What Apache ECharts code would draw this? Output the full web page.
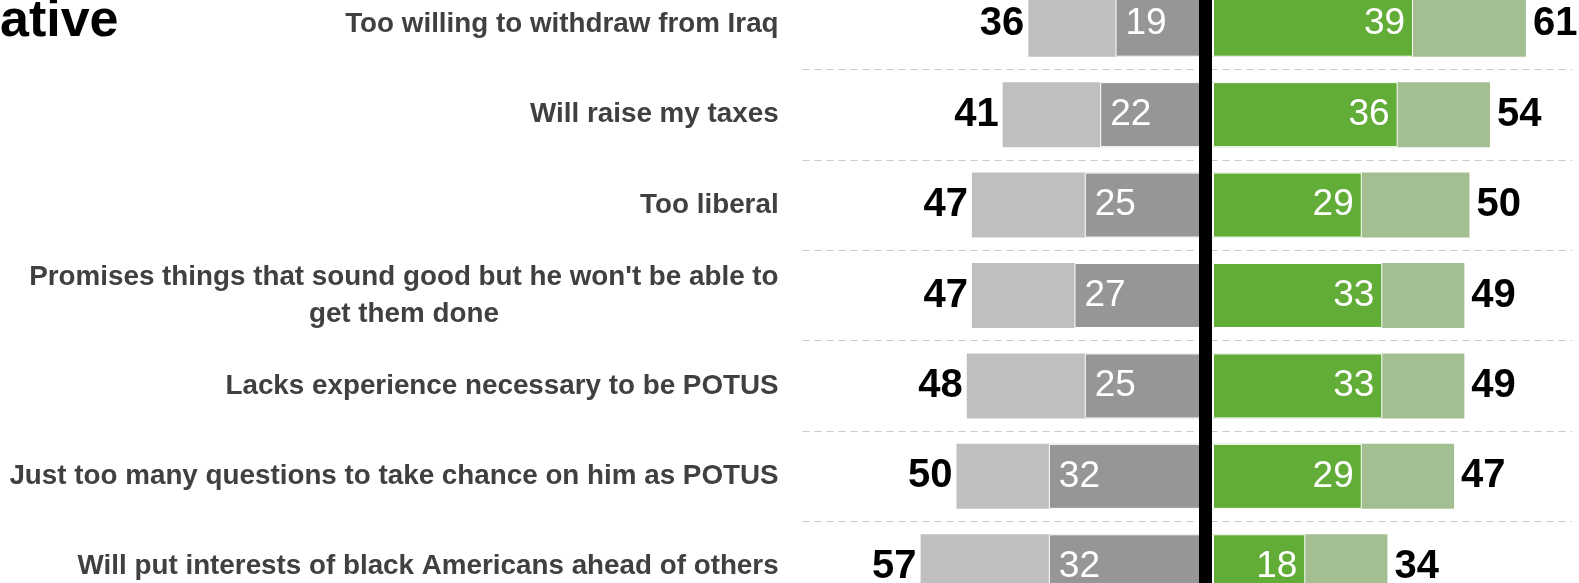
<!DOCTYPE html>
<html>
<head>
<meta charset="utf-8">
<script src="https://cdn.jsdelivr.net/npm/echarts@6/dist/echarts.min.js"></script>
<style>
html, body { margin: 0; padding: 0; background: #fff; }
#main { width: 1579px; height: 583px; }
</style>
</head>
<body>
<div id="main"></div>
<script>
let categories = [
    'Too willing to withdraw from Iraq',
    'Will raise my taxes',
    'Too liberal',
    "Promises things that sound good but he won't be able to\nget them done",
    'Lacks experience necessary to be POTUS',
    'Just too many questions to take chance on him as POTUS',
    'Will put interests of black Americans ahead of others'
];
let grayTotal   = [36, 41, 47, 47, 48, 50, 57];
let grayStrong  = [19, 22, 25, 27, 25, 32, 32];
let greenStrong = [39, 36, 29, 33, 33, 29, 18];
let greenTotal  = [61, 54, 50, 49, 49, 47, 34];

// layout
let xMin = -80, xMax = 70;
let pxPerUnit = 5.13;
let zeroX = 1213;
let gridLeft = zeroX - (-xMin) * pxPerUnit;
let gridWidth = (xMax - xMin) * pxPerUnit;
let lineCenter = 1205.5;
let font = 'Liberation Sans';

let absLabel = function (p) { return Math.abs(p.value); };

let totalLabel = function (pos, dist) {
    return {
        show: true, position: pos, distance: dist,
        formatter: absLabel,
        fontFamily: font, fontSize: 40, fontWeight: 'bold', color: '#000'
    };
};
let innerLabel = function (pos, dist) {
    return {
        show: true, position: pos, distance: dist,
        formatter: absLabel,
        fontFamily: font, fontSize: 37, color: '#fff'
    };
};

let option = {
    animation: false,
    backgroundColor: '#fff',
    title: {
        text: 'ative',
        left: 0,
        top: -4,
        padding: 0,
        textStyle: { fontFamily: font, fontSize: 52, fontWeight: 'bold', color: '#000' }
    },
    grid: {
        left: gridLeft,
        width: gridWidth,
        top: -21,
        height: 633,
        outerBoundsMode: 'none',
        containLabel: false
    },
    xAxis: {
        type: 'value',
        min: xMin,
        max: xMax,
        show: false
    },
    yAxis: [
        {
            type: 'category',
            inverse: true,
            data: categories,
            position: 'left',
            axisLine: { show: false, onZero: false },
            axisTick: { show: false },
            splitLine: {
                show: true,
                lineStyle: { color: '#c8c8c8', width: 1, type: [7, 5] }
            },
            axisLabel: {
                margin: 24,
                formatter: function (v) {
                    return v.split('\n').map(function (s) { return '{c|' + s + '}'; }).join('\n');
                },
                rich: {
                    c: {
                        fontFamily: font, fontSize: 27.8, fontWeight: 'bold',
                        color: '#404040', align: 'center', lineHeight: 37
                    }
                }
            }
        },
        {
            type: 'category',
            inverse: true,
            data: categories,
            position: 'left',
            offset: -(lineCenter - gridLeft),
            z: 10,
            axisLine: { show: true, onZero: false, lineStyle: { color: '#000', width: 13 } },
            axisTick: { show: false },
            axisLabel: { show: false },
            splitLine: { show: false }
        }
    ],
    series: [
        {
            name: 'gray total',
            type: 'bar',
            barWidth: 65,
            barGap: '-100%',
            data: grayTotal.map(function (v) { return -v; }),
            itemStyle: { color: '#bfbfbf' },
            label: totalLabel('left', 4)
        },
        {
            name: 'gray strong',
            type: 'bar',
            barWidth: 65,
            barGap: '-100%',
            data: grayStrong.map(function (v) { return -v; }),
            itemStyle: { color: '#969696', borderColor: '#fff', borderWidth: 1 },
            label: innerLabel('insideLeft', 10)
        },
        {
            name: 'green total',
            type: 'bar',
            barWidth: 65,
            barGap: '-100%',
            data: greenTotal,
            itemStyle: { color: '#a3bf91' },
            label: totalLabel('right', 7)
        },
        {
            name: 'green strong',
            type: 'bar',
            barWidth: 65,
            barGap: '-100%',
            data: greenStrong,
            itemStyle: { color: '#62ad37', borderColor: '#fff', borderWidth: 1 },
            label: innerLabel('insideRight', 8)
        }
    ]
};

let myChart = echarts.init(document.getElementById('main'));
myChart.setOption(option);
</script>
</body>
</html>
